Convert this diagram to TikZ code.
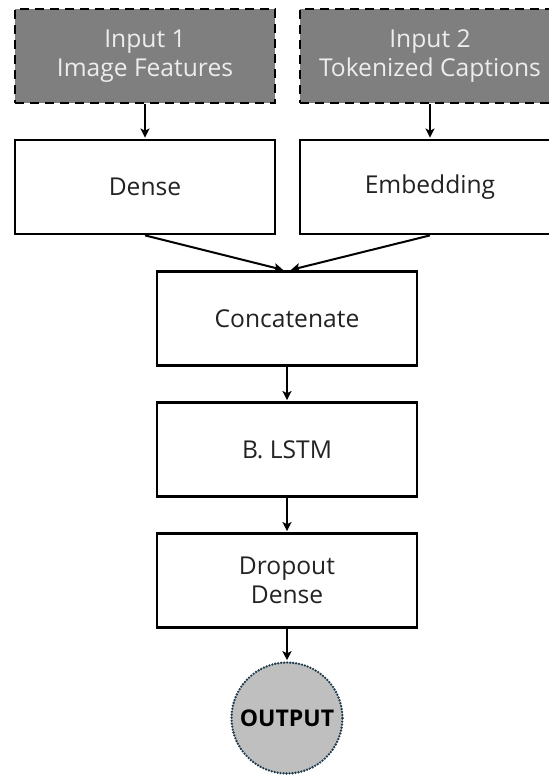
\documentclass[tikz,border=0pt]{standalone}
\usepackage{fontspec}
\setmainfont{Open Sans}
\usetikzlibrary{arrows.meta,positioning}
\definecolor{inputgray}{HTML}{7F7F7F}
\definecolor{inputtext}{HTML}{EDEDED}
\definecolor{textgray}{HTML}{222222}
\definecolor{outgray}{HTML}{BFBFBF}
\definecolor{dotblue}{HTML}{1F3A4D}

\begin{document}
\begin{tikzpicture}[->,>={Stealth[length=4.5pt,width=4.5pt,inset=1pt]},
  shorten >=0.5pt,auto,node distance=65.5pt,line width=1pt,
  layer node/.style={rectangle,draw,line width=1.4pt,minimum width=130pt,
    minimum height=47pt,text=textgray,align=center,
    font=\fontsize{12.3}{14.5}\selectfont},
  input node/.style={layer node,fill=inputgray,text=inputtext,
    dash pattern=on 4.5pt off 3pt},
  output node/.style={circle,draw=dotblue,fill=outgray,minimum size=55.5pt,
    inner sep=0pt,line width=1.3pt,line cap=round,dash pattern=on 0pt off 1.5pt,
    font=\fontsize{11.5}{13}\selectfont\bfseries}]
  \useasboundingbox (0,0) rectangle (274.5pt,-389pt);

  % two input branches
  \node[layer node] (dense) at (72.5pt,-93.5pt) {Dense};
  \node[layer node] (embed) [right of=dense,node distance=142.5pt] {Embedding};
  \node[input node] (in1) [above of=dense] {Input 1\\Image Features};
  \node[input node] (in2) [above of=embed] {Input 2\\Tokenized Captions};

  % merged stack
  \node[layer node] (concat) at (143.5pt,-159.25pt) {Concatenate};
  \node[layer node] (lstm) [below of=concat] {B. LSTM};
  \node[layer node] (drop) [below of=lstm] {Dropout\\Dense};
  \node[output node] (out) [below of=drop,node distance=68.75pt] {OUTPUT};

  \path
    (in1) edge (dense)
    (in2) edge (embed)
    (dense.south) edge ([xshift=-1.5pt]concat.north)
    (embed.south) edge ([xshift=1.5pt]concat.north)
    (concat) edge (lstm)
    (lstm) edge (drop)
    (drop) edge (out)
;
\end{tikzpicture}
\end{document}
